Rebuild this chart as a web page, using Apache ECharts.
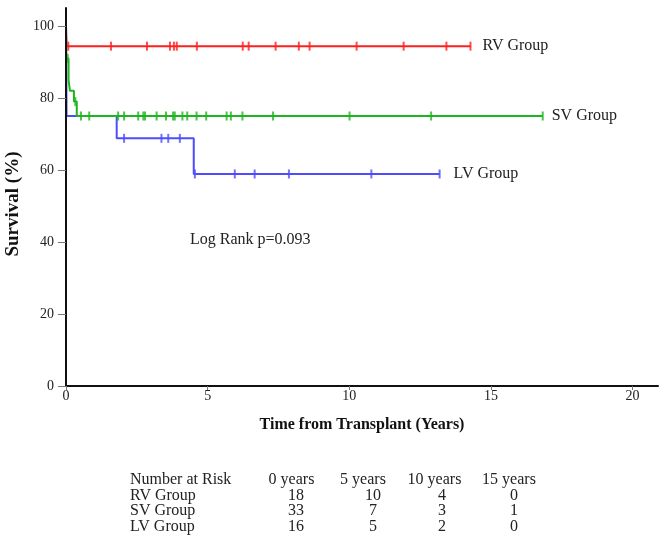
<!DOCTYPE html>
<html>
<head>
<meta charset="utf-8">
<script src="https://cdn.jsdelivr.net/npm/echarts@6/dist/echarts.min.js"></script>
<style>html,body{margin:0;padding:0;background:#fff}#c{width:659px;height:536px}</style>
</head>
<body>
<div id="c"></div>
<script>
// ---- data ----
const groupNames = ['RV Group', 'SV Group', 'LV Group'];
// Kaplan-Meier steps [time (years), survival %]
const rvSteps = [[0, 100], [0.02, 94.4], [14.28, 94.4]];
const svSteps = [[0, 100], [0.01, 91], [0.09, 85], [0.14, 82], [0.28, 79], [0.38, 75], [16.83, 75]];
const lvSteps = [[0, 100], [0.02, 75], [1.79, 68.8], [4.51, 58.9], [13.19, 58.9]];
// censored times (years)
const rvCensor = [0.08, 1.59, 2.86, 3.67, 3.81, 3.91, 4.62, 6.24, 6.45, 7.40, 8.22, 8.60, 10.26, 11.92, 13.43, 14.28];
const svCensor = [0.06, 0.33, 0.53, 0.82, 1.84, 2.05, 2.55, 2.73, 2.79, 3.20, 3.53, 3.78, 3.84, 4.11, 4.28, 4.61, 4.95, 5.67, 5.82, 6.23, 7.31, 10.01, 12.89, 16.83];
const lvCensor = [2.05, 3.37, 3.61, 4.02, 4.55, 5.96, 6.66, 7.87, 10.78, 13.19];
// axis ticks
const xTicks = [0, 5, 10, 15, 20];
const yTicks = [0, 20, 40, 60, 80, 100];
// number at risk table
const riskTitle = 'Number at Risk';
const riskHeaders = ['0 years', '5 years', '10 years', '15 years'];
const rvRisk = [18, 10, 4, 0];
const svRisk = [33, 7, 3, 1];
const lvRisk = [16, 5, 2, 0];
const statText = 'Log Rank p=0.093';

// ---- rendering ----
const FONT = 'Liberation Serif';
const colors = ['#ff1f1f', '#1fb41f', '#4d4dff'];
const stepsAll = [rvSteps, svSteps, lvSteps];
const censorAll = [rvCensor, svCensor, lvCensor];
const riskAll = [rvRisk, svRisk, lvRisk];
const zOrder = [3, 4, 2];

function survAt(steps, t) {
  let v = steps[0][1];
  for (const p of steps) { if (p[0] <= t) v = p[1]; }
  return v;
}

const series = [];
const labelDist = [12, 9, 14];
stepsAll.forEach((steps, i) => {
  series.push({
    name: groupNames[i], type: 'line', step: 'end', data: steps,
    symbol: 'none', lineStyle: { color: colors[i], width: 2 }, z: zOrder[i],
    endLabel: { show: true, formatter: '{a}', distance: labelDist[i], color: '#222', fontSize: 16, fontFamily: FONT }
  });
  series.push({
    name: groupNames[i] + ' censored', type: 'scatter',
    data: censorAll[i].map(t => [t, survAt(steps, t)]),
    symbol: 'rect', symbolSize: [2, 9], itemStyle: { color: colors[i] }, z: zOrder[i]
  });
});

const graphics = [];
graphics.push({ type: 'text', left: 190, top: 232, style: { text: statText, font: '16px "' + FONT + '"', fill: '#222' } });
const rowY = [472, 488, 503, 519];
const headX = [291.5, 363, 434.5, 509];
const valX = [296, 373, 442, 514];
graphics.push({ type: 'text', x: 130, y: rowY[0], style: { text: riskTitle, font: '16px "' + FONT + '"', fill: '#222' } });
riskHeaders.forEach((h, j) => {
  graphics.push({ type: 'text', x: headX[j], y: rowY[0], style: { text: h, font: '16px "' + FONT + '"', fill: '#222', textAlign: 'center' } });
});
groupNames.forEach((g, i) => {
  graphics.push({ type: 'text', x: 130, y: rowY[i + 1], style: { text: g, font: '16px "' + FONT + '"', fill: '#222' } });
  riskAll[i].forEach((v, j) => {
    graphics.push({ type: 'text', x: valX[j], y: rowY[i + 1], style: { text: String(v), font: '16px "' + FONT + '"', fill: '#222', textAlign: 'center' } });
  });
});

const chart = echarts.init(document.getElementById('c'), null, { renderer: 'canvas' });
chart.setOption({
  animation: false,
  backgroundColor: '#fff',
  grid: { left: 66, right: 1, top: 8, bottom: 150, containLabel: false, outerBoundsMode: 'none' },
  xAxis: {
    type: 'value', min: 0, max: 20.9, z: 6,
    name: 'Time from Transplant (Years)', nameLocation: 'middle', nameGap: 31,
    nameTextStyle: { fontFamily: FONT, fontSize: 16, fontWeight: 'bold', color: '#111' },
    axisLine: { show: true, lineStyle: { color: '#111', width: 2 } },
    axisTick: { show: true, length: 4, lineStyle: { color: '#777', width: 1 }, customValues: xTicks },
    axisLabel: { fontFamily: FONT, fontSize: 14, color: '#222', margin: 3, customValues: xTicks },
    splitLine: { show: false }
  },
  yAxis: {
    type: 'value', min: 0, max: 105, z: 6,
    name: 'Survival (%)', nameLocation: 'middle', nameGap: 37,
    nameTextStyle: { fontFamily: FONT, fontSize: 19, fontWeight: 'bold', color: '#111', padding: [0, 14, 0, 0] },
    axisLine: { show: true, lineStyle: { color: '#111', width: 2 } },
    axisTick: { show: true, length: 8, lineStyle: { color: '#777', width: 1 }, customValues: yTicks },
    axisLabel: { fontFamily: FONT, fontSize: 14, color: '#222', margin: 12, customValues: yTicks },
    splitLine: { show: false }
  },
  series: series,
  graphic: graphics
});
</script>
</body>
</html>
